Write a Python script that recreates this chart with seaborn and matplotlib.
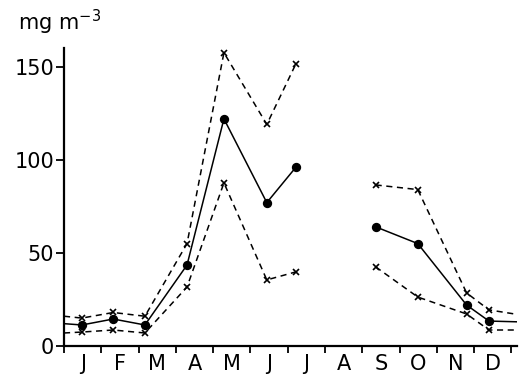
import numpy as np
import pandas as pd
import matplotlib
matplotlib.use("Agg")
from matplotlib import pyplot as plt
import seaborn as sns

# Sampling positions in months (0 = start of January); edge points carry the
# curves to the axis ends, no sampling in August
month_labels = ['J', 'F', 'M', 'A', 'M', 'J', 'J', 'A', 'S', 'O', 'N', 'D']
pos_spring = [0.0, 0.48, 1.32, 2.17, 3.3, 4.29, 5.44, 6.22]
pos_autumn = [8.36, 9.49, 10.8, 11.4, 12.15]

mean_spring = [12, 11.3, 14.5, 11.3, 43.5, 122, 77, 96]
mean_autumn = [64, 55, 22, 13.4, 13]
upper_spring = [16, 15, 18, 16, 55, 157.5, 119, 151.5]
upper_autumn = [86.5, 84, 28.5, 19.4, 17]
lower_spring = [7, 7.5, 8.6, 7, 31.7, 87.6, 35.5, 39.8]
lower_autumn = [42.5, 26.3, 17.2, 8.6, 8.6]


def build_frame():
    rows = []
    parts = [('spring', pos_spring, mean_spring, upper_spring, lower_spring, slice(1, None)),
             ('autumn', pos_autumn, mean_autumn, upper_autumn, lower_autumn, slice(0, -1))]
    for seg, pos, mean, upper, lower, sampled in parts:
        is_sample = np.zeros(len(pos), dtype=bool)
        is_sample[sampled] = True
        for name, vals in [('mean', mean), ('upper', upper), ('lower', lower)]:
            for i in range(len(pos)):
                rows.append({'segment': seg, 'series': name, 'month': pos[i],
                             'value': vals[i], 'sample': is_sample[i]})
    return pd.DataFrame(rows)


def plot_chart(df):
    sns.set_style('white')
    plt.rcParams['font.family'] = ['DejaVu Sans']
    plt.rcParams['text.color'] = 'black'
    plt.rcParams['xtick.color'] = 'black'
    plt.rcParams['ytick.color'] = 'black'
    fig = plt.figure(figsize=(5.23, 3.82), dpi=100)
    ax = fig.add_axes([0.1224, 0.0942, 0.866, 0.780])

    styles = {'mean': ('-', 'o', 5.5),
              'upper': ('--', 'x', 5),
              'lower': ('--', 'x', 5)}
    for (seg, name), sub in df.groupby(['segment', 'series']):
        ls, mk, ms = styles[name]
        sns.lineplot(data=sub, x='month', y='value', ax=ax, color='black',
                     linestyle=ls, linewidth=1.1, sort=True, estimator=None)
        if ls == '--':
            ax.lines[-1].set_dashes([4, 3])
        pts = sub[sub['sample']]
        ax.plot(pts['month'], pts['value'], mk, color='black', ms=ms,
                mew=1.2)

    ax.set_xlim(0, 12.15)
    ax.set_ylim(0, 160)
    ax.set_yticks([0, 50, 100, 150])
    ax.set_xticks(np.arange(13))
    ax.set_xticklabels([])
    ax.set_xticks(np.arange(12) + 0.5, minor=True)
    ax.set_xticklabels(month_labels, minor=True)
    ax.tick_params(axis='x', which='major', direction='out', length=5,
                   width=1.3, bottom=True)
    ax.tick_params(axis='x', which='minor', length=0, pad=6, labelsize=15,
                   labelcolor='black')
    ax.tick_params(axis='y', direction='out', length=6, width=1.3,
                   left=True, labelsize=15, pad=1, labelcolor='black')
    sns.despine(ax=ax)
    for s in ['left', 'bottom']:
        ax.spines[s].set_linewidth(1.6)
        ax.spines[s].set_color('black')
    ax.set_xlabel('')
    ax.set_ylabel('')
    fig.text(0.035, 0.92, 'mg m$^{-3}$', fontsize=15, color='black')
    fig.savefig('out.png', dpi=100)


def main():
    df = build_frame()
    plot_chart(df)


if __name__ == "__main__":
    main()
